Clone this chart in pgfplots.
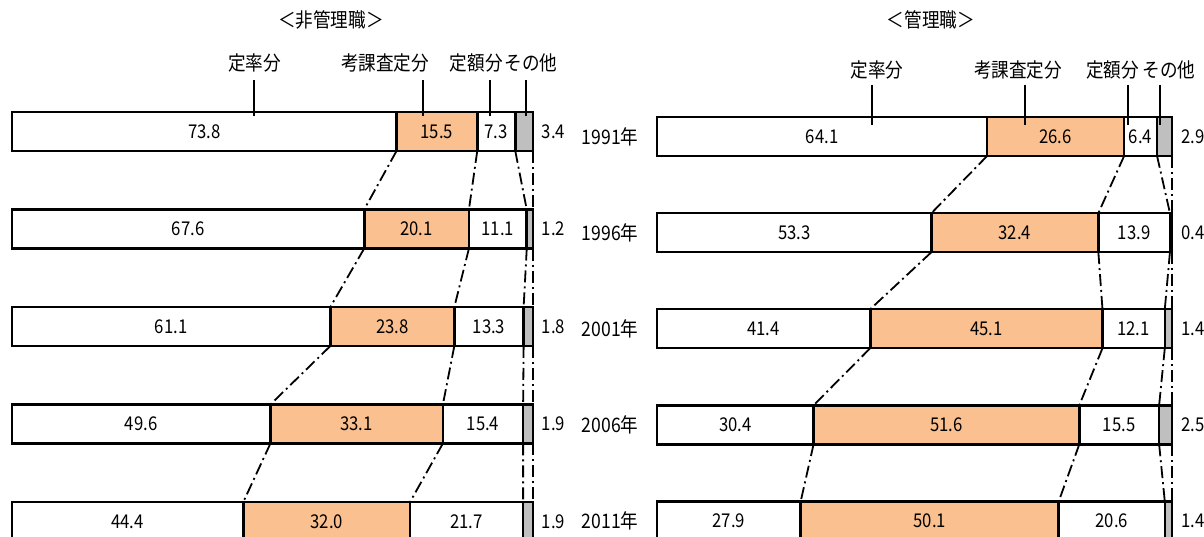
\documentclass[border=0pt]{standalone}
\usepackage{pgfplots}
\usepackage{pgfplotstable}
\pgfplotsset{compat=1.18}
\usepackage{fontspec}
\setmainfont{Noto Sans CJK JP}[FakeStretch=0.88]
\definecolor{tanc}{RGB}{250,192,143}
\definecolor{grayc}{RGB}{191,191,191}
% r = row (0 = 1991 ... 4 = 2011); a = 定率分, b = 考課査定分, c = 定額分, d = その他
\pgfplotstableread{
r a b c d
0 73.8 15.5 7.3 3.4
1 67.6 20.1 11.1 1.2
2 61.1 23.8 13.3 1.8
3 49.6 33.1 15.4 1.9
4 44.4 32.0 21.7 1.9
}\lefttab
\pgfplotstableread{
r a b c d
0 64.1 26.6 6.4 2.9
1 53.3 32.4 13.9 0.4
2 41.4 45.1 12.1 1.4
3 30.4 51.6 15.5 2.5
4 27.9 50.1 20.6 1.4
}\righttab
\tikzset{lab/.style={font=\fontsize{10}{12}\selectfont}}
\pgfplotsset{
  seg/.style={draw=black, line width=1.3pt, fill=#1},
  numlab/.style={draw=none, mark=none, point meta=explicit,
    nodes near coords={\pgfmathprintnumber[fixed,fixed zerofill,precision=1,assume math mode=true]{\pgfplotspointmeta}},
    every node near coord/.style={anchor=#1, font=\fontsize{9.5}{10}\selectfont, text=black, inner sep=0pt}},
  conn/.style={black, line width=0.9pt, dash pattern=on 6pt off 2pt on 1pt off 2pt, unbounded coords=jump, mark=none},
  lead/.style={black, line width=1pt, mark=none},
  baseax/.style={anchor=south west, scale only axis, height=268pt, xmin=0, xmax=100,
    y dir=reverse, hide axis, clip=false},
}
\begin{document}
\begin{tikzpicture}
\useasboundingbox (0,0) rectangle (602pt,268pt);
% ---------- left panel bars ----------
\begin{axis}[baseax, at={(6pt,0pt)}, width=260.5pt, ymin=-1.349, ymax=4.149,
  xbar stacked, bar width=19.5pt]
\addplot[seg=white] table[x=a, y=r] {\lefttab};
\addplot[seg=tanc]  table[x=b, y=r] {\lefttab};
\addplot[seg=white] table[x=c, y=r] {\lefttab};
\addplot[seg=grayc] table[x=d, y=r] {\lefttab};
\end{axis}
% ---------- left panel connectors and labels ----------
\begin{axis}[baseax, at={(6pt,0pt)}, width=260.5pt, ymin=-1.349, ymax=4.149]
\addplot[numlab=center] table[x expr=\thisrow{a}/2, y=r, meta=a] {\lefttab};
\addplot[numlab=center] table[x expr=\thisrow{a}+\thisrow{b}/2, y=r, meta=b] {\lefttab};
\addplot[numlab=center] table[x expr=\thisrow{a}+\thisrow{b}+\thisrow{c}/2, y=r, meta=c] {\lefttab};
\addplot[numlab=west] table[x expr=101.6, y=r, meta=d] {\lefttab};
\addplot[conn] coordinates {(73.8,0.2) (67.6,0.8) (nan,nan) (67.6,1.2) (61.1,1.8) (nan,nan) (61.1,2.2) (49.6,2.8) (nan,nan) (49.6,3.2) (44.4,3.8)};
\addplot[conn] coordinates {(89.3,0.2) (87.7,0.8) (nan,nan) (87.7,1.2) (84.9,1.8) (nan,nan) (84.9,2.2) (82.7,2.8) (nan,nan) (82.7,3.2) (76.4,3.8)};
\addplot[conn] coordinates {(96.6,0.2) (98.8,0.8) (nan,nan) (98.8,1.2) (98.2,1.8) (nan,nan) (98.2,2.2) (98.1,2.8) (nan,nan) (98.1,3.2) (98.1,3.8)};
\addplot[conn] coordinates {(100,0.2) (100,0.8) (nan,nan) (100,1.2) (100,1.8) (nan,nan) (100,2.2) (100,2.8) (nan,nan) (100,3.2) (100,3.8)};
\addplot[lead] coordinates {(46.4,-0.53) (46.4,-0.16)};
\addplot[lead] coordinates {(78.9,-0.53) (78.9,-0.16)};
\addplot[lead] coordinates {(91.7,-0.53) (91.7,-0.16)};
\addplot[lead] coordinates {(98.7,-0.53) (98.7,-0.16)};
\node[lab] at (axis cs:61.2,-1.144) {＜非管理職＞};
\node[lab] at (axis cs:46.6,-0.703) {定率分};
\node[lab] at (axis cs:71.6,-0.703) {考課査定分};
\node[lab] at (axis cs:89.1,-0.703) {定額分};
\node[lab] at (axis cs:99.6,-0.703) {その他};
\end{axis}
% ---------- right panel bars ----------
\begin{axis}[baseax, at={(328.5pt,0pt)}, width=257.5pt, ymin=-1.420, ymax=4.157,
  xbar stacked, bar width=19.5pt]
\addplot[seg=white] table[x=a, y=r] {\righttab};
\addplot[seg=tanc]  table[x=b, y=r] {\righttab};
\addplot[seg=white] table[x=c, y=r] {\righttab};
\addplot[seg=grayc] table[x=d, y=r] {\righttab};
\end{axis}
% ---------- right panel connectors and labels ----------
\begin{axis}[baseax, at={(328.5pt,0pt)}, width=257.5pt, ymin=-1.420, ymax=4.157]
\addplot[numlab=center] table[x expr=\thisrow{a}/2, y=r, meta=a] {\righttab};
\addplot[numlab=center] table[x expr=\thisrow{a}+\thisrow{b}/2, y=r, meta=b] {\righttab};
\addplot[numlab=center] table[x expr=\thisrow{a}+\thisrow{b}+\thisrow{c}/2, y=r, meta=c] {\righttab};
\addplot[numlab=west] table[x expr=101.8, y=r, meta=d] {\righttab};
\addplot[conn] coordinates {(64.1,0.203) (53.3,0.797) (nan,nan) (53.3,1.203) (41.4,1.797) (nan,nan) (41.4,2.203) (30.4,2.797) (nan,nan) (30.4,3.203) (27.9,3.797)};
\addplot[conn] coordinates {(90.7,0.203) (85.7,0.797) (nan,nan) (85.7,1.203) (86.5,1.797) (nan,nan) (86.5,2.203) (82.0,2.797) (nan,nan) (82.0,3.203) (78.0,3.797)};
\addplot[conn] coordinates {(97.1,0.203) (99.6,0.797) (nan,nan) (99.6,1.203) (98.6,1.797) (nan,nan) (98.6,2.203) (97.5,2.797) (nan,nan) (97.5,3.203) (98.6,3.797)};
\addplot[conn] coordinates {(100,0.203) (100,0.797) (nan,nan) (100,1.203) (100,1.797) (nan,nan) (100,2.203) (100,2.797) (nan,nan) (100,3.203) (100,3.797)};
\addplot[lead] coordinates {(41.7,-0.54) (41.7,-0.12)};
\addplot[lead] coordinates {(71.5,-0.54) (71.5,-0.12)};
\addplot[lead] coordinates {(91.5,-0.54) (91.5,-0.12)};
\addplot[lead] coordinates {(97.7,-0.54) (97.7,-0.12)};
\node[lab] at (axis cs:53.2,-1.212) {＜管理職＞};
\node[lab] at (axis cs:42.7,-0.692) {定率分};
\node[lab] at (axis cs:70.1,-0.692) {考課査定分};
\node[lab] at (axis cs:88.5,-0.692) {定額分};
\node[lab] at (axis cs:99.4,-0.692) {その他};
\node[lab] at (axis cs:-9.1,0) {1991年};
\node[lab] at (axis cs:-9.1,1) {1996年};
\node[lab] at (axis cs:-9.1,2) {2001年};
\node[lab] at (axis cs:-9.1,3) {2006年};
\node[lab] at (axis cs:-9.1,4) {2011年};
\end{axis}
\end{tikzpicture}
\end{document}
